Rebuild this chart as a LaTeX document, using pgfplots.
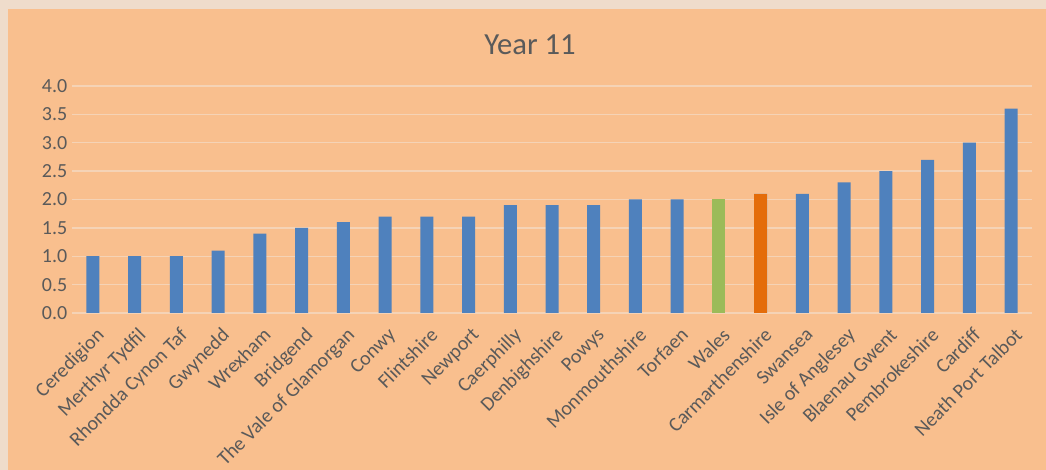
\documentclass[border=0pt]{standalone}
\usepackage{pgfplots}
\pgfplotsset{compat=1.18}
\usepackage{pgfplotstable}
\usepackage{fontspec}
\setmainfont{Carlito}

\definecolor{bgpeach}{HTML}{F9BF8E}
\definecolor{edgebeige}{HTML}{EFDCCB}
\definecolor{gridpeach}{HTML}{F5D3B6}
\definecolor{txtgray}{HTML}{5A5A5A}
\definecolor{barblue}{HTML}{4F81BD}
\definecolor{bargreen}{HTML}{9BBB59}
\definecolor{barorange}{HTML}{E46C0A}

% 1 px of the reference = 0.75pt
\pgfplotstableread{
idx val
0 1.0
1 1.0
2 1.0
3 1.1
4 1.4
5 1.5
6 1.6
7 1.7
8 1.7
9 1.7
10 1.9
11 1.9
12 1.9
13 2.0
14 2.0
16 2.1
17 2.1
18 2.3
19 2.5
20 2.7
21 3.0
22 3.6
}\others

\begin{document}
\begin{tikzpicture}[x=0.75pt,y=0.75pt]
\fill[edgebeige] (0,0) rectangle (1046,470);
\fill[bgpeach] (8,0) rectangle (1046,461);
\useasboundingbox (0,0) rectangle (1046,470);
\node[txtgray, font=\fontsize{23}{27}\selectfont] at (530,425) {Year 11};
\begin{axis}[
    at={(54pt,117.75pt)}, anchor=south west,
    scale only axis,
    width=720pt, height=170.25pt,
    ymin=0, ymax=4,
    xmin=-0.5, xmax=22.5,
    ytick={0,0.5,...,4},
    yticklabel style={/pgf/number format/fixed,/pgf/number format/fixed zerofill,/pgf/number format/precision=1},
    /pgf/number format/assume math mode=true,
    xtick={0,...,22},
    xticklabels={Ceredigion,Merthyr Tydfil,Rhondda Cynon Taf,Gwynedd,Wrexham,Bridgend,The Vale of Glamorgan,Conwy,Flintshire,Newport,Caerphilly,Denbighshire,Powys,Monmouthshire,Torfaen,Wales,Carmarthenshire,Swansea,Isle of Anglesey,Blaenau Gwent,Pembrokeshire,Cardiff,Neath Port Talbot},
    xticklabel style={rotate=45, anchor=north east, xshift=-2.5pt, yshift=-5pt, text=txtgray, font=\fontsize{15}{17}\selectfont},
    yticklabel style={text=txtgray, font=\fontsize{15}{17}\selectfont},
    ymajorgrids, grid style={gridpeach, line width=1pt},
    major tick length=0pt,
    axis line style={draw=none},
    axis x line*=bottom, axis y line*=left,
    ybar, bar width=9.75pt, bar shift=0pt,
]
\addplot[fill=barblue, draw=none] table[x=idx, y=val] {\others};
\addplot[fill=bargreen, draw=none] coordinates {(15,2.0)};
\addplot[fill=barorange, draw=none] coordinates {(16,2.1)};
\end{axis}
\end{tikzpicture}
\end{document}
